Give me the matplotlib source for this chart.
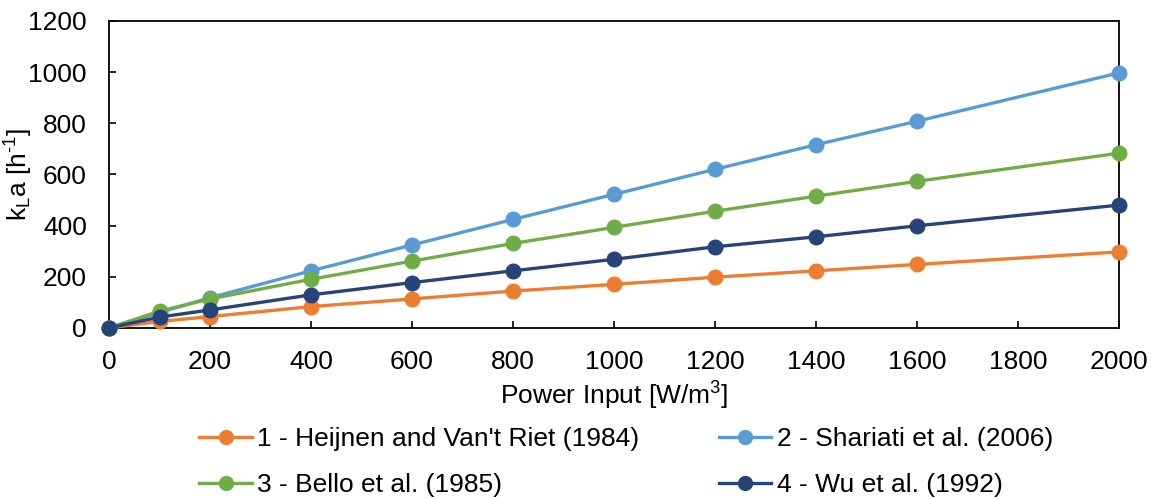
import matplotlib
matplotlib.use("Agg")
import matplotlib.pyplot as plt

plt.rcParams['font.family'] = ['Liberation Sans', 'DejaVu Sans']
plt.rcParams['mathtext.fontset'] = 'custom'
plt.rcParams['mathtext.rm'] = 'Liberation Sans'
plt.rcParams['mathtext.it'] = 'Liberation Sans'

power = [0, 100, 200, 400, 600, 800, 1000, 1200, 1400, 1600, 2000]
heijnen = [0, 25, 44, 83, 113, 144, 170, 198, 223, 248, 297]
shariati = [0, 60, 118, 223, 324, 424, 522, 620, 716, 808, 997]
bello = [0, 65, 113, 190, 261, 330, 393, 456, 515, 573, 683]
wu = [0, 42, 70, 129, 177, 223, 268, 317, 356, 399, 480]

labels = ["1 - Heijnen and Van't Riet (1984)", "2 - Shariati et al. (2006)",
          "3 - Bello et al. (1985)", "4 - Wu et al. (1992)"]
colors = ["#ED7D31", "#5B9BD5", "#70AD47", "#264478"]
series = [heijnen, shariati, bello, wu]

FS = 19

fig = plt.figure(figsize=(11.55, 4.99), dpi=100)
ax = fig.add_axes([0.0944, 0.343, 0.8745, 0.615])

handles = []
for ys, c, lab in zip(series, colors, labels):
    h, = ax.plot(power, ys, color=c, lw=2.4, marker='o', markersize=10.5,
                 label=lab, clip_on=False, zorder=3)
    handles.append(h)

ax.set_xlim(0, 2000)
ax.set_ylim(0, 1200)
ax.set_xticks(range(0, 2001, 200))
ax.set_yticks(range(0, 1201, 200))
ax.tick_params(direction='in', length=5, width=1.2, labelsize=FS, pad=16,
               colors='black')
for s in ax.spines.values():
    s.set_linewidth(1.3)
    s.set_color('black')

ax.set_xlabel('Power Input [W/m$^\\mathregular{3}$]', fontsize=FS, labelpad=4)
ax.set_ylabel('k$_\\mathregular{L}$a [h$^{\\text{-1}}$]', fontsize=FS)
ax.yaxis.set_label_coords(-0.073, 0.5)

order = [0, 2, 1, 3]
fig.legend([handles[i] for i in order], [labels[i] for i in order],
           loc='center', bbox_to_anchor=(0.542, 0.074), ncol=2, frameon=False,
           fontsize=FS, handlelength=2.0, columnspacing=3.0, labelspacing=0.85,
           handletextpad=0.2, markerscale=0.95, borderpad=0)

fig.savefig('out.png', dpi=100)
